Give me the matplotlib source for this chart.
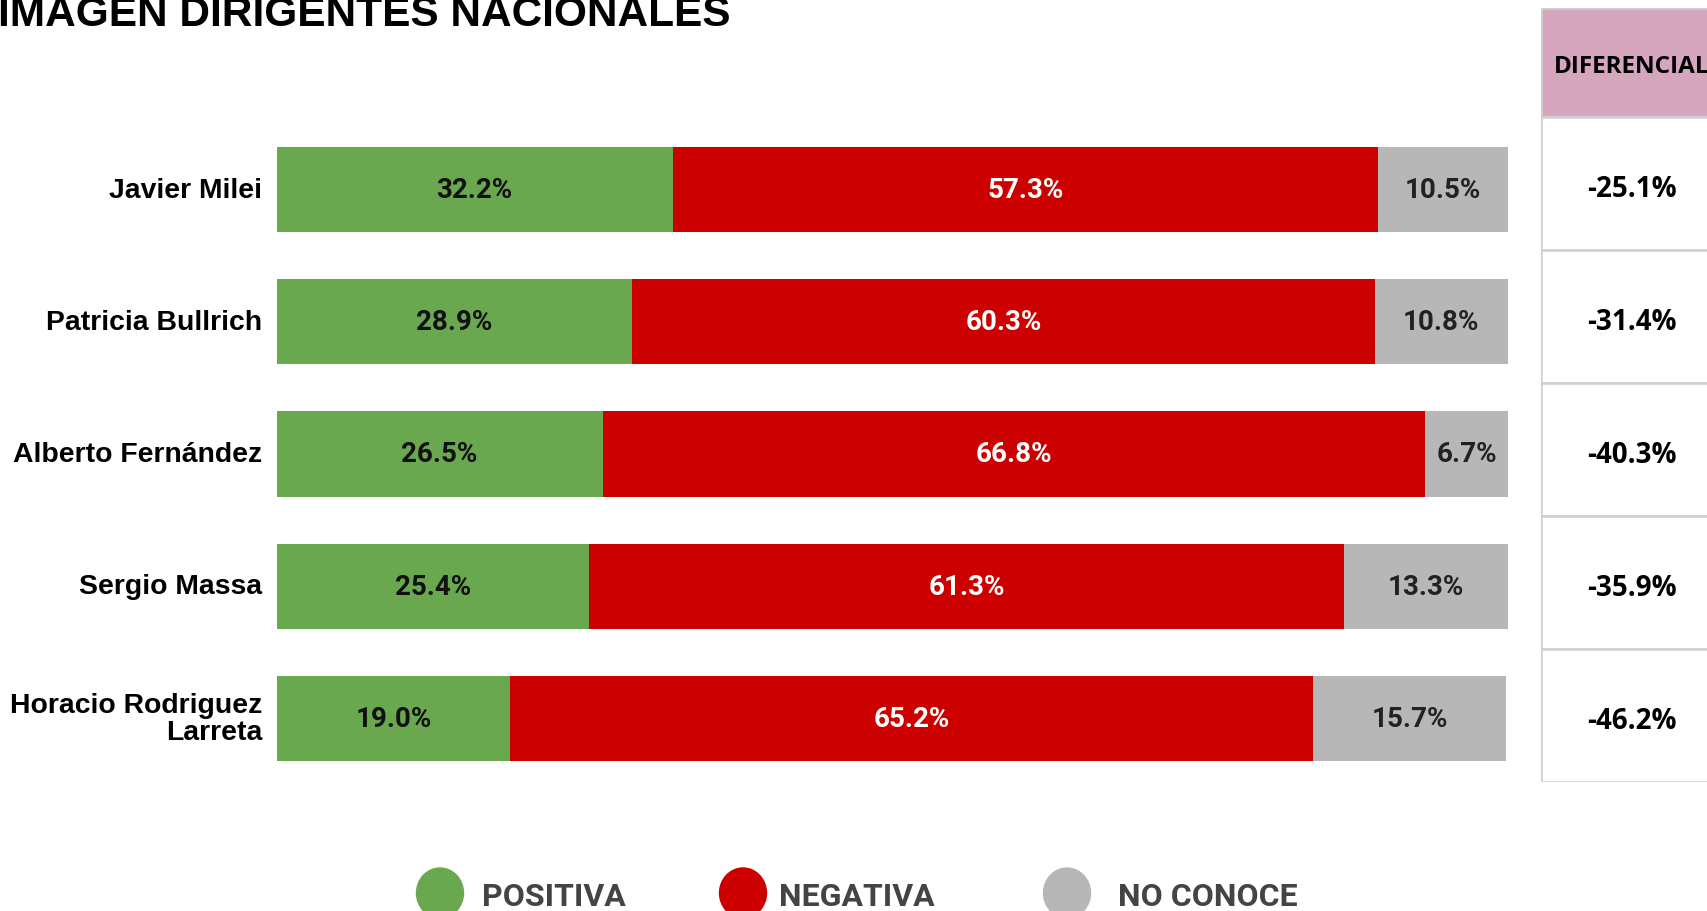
import matplotlib
matplotlib.use("Agg")
import matplotlib.pyplot as plt
from matplotlib.patches import Rectangle, Ellipse

# data
candidatos = ["Javier Milei", "Patricia Bullrich", "Alberto Fernández",
              "Sergio Massa", "Horacio Rodriguez\nLarreta"]
positiva = [32.2, 28.9, 26.5, 25.4, 19.0]
negativa = [57.3, 60.3, 66.8, 61.3, 65.2]
no_conoce = [10.5, 10.8, 6.7, 13.3, 15.7]
diferencial = [-25.1, -31.4, -40.3, -35.9, -46.2]
series = ["POSITIVA", "NEGATIVA", "NO CONOCE"]

verde = "#6aa84f"
rojo = "#cc0000"
gris = "#b7b7b7"

W, H = 1707, 912
fig = plt.figure(figsize=(W / 100, H / 100), dpi=100)

# bars axes (pixel layout from the reference)
x0, x1 = 276.5, 1507.7
ytop, ybot = 124.5, 785.5
ax = fig.add_axes([x0 / W, (H - ybot) / H, (x1 - x0) / W, (ybot - ytop) / H])
ax.set_xlim(0, 100)
ax.set_ylim(4.5, -0.5)
ax.axis("off")

ys = list(range(len(candidatos)))
h = 0.645
ax.barh(ys, positiva, height=h, color=verde)
left2 = positiva
ax.barh(ys, negativa, left=left2, height=h, color=rojo)
left3 = [p + n for p, n in zip(positiva, negativa)]
ax.barh(ys, no_conoce, left=left3, height=h, color=gris)

lab_font = dict(family=["Roboto", "DejaVu Sans"], fontweight="bold", fontsize=20,
                ha="center", va="center")
for i in ys:
    ax.text(positiva[i] / 2, i, f"{positiva[i]:.1f}%", color="#111111", **lab_font)
    ax.text(positiva[i] + negativa[i] / 2, i, f"{negativa[i]:.1f}%", color="white", **lab_font)
    ax.text(left3[i] + no_conoce[i] / 2, i, f"{no_conoce[i]:.1f}%", color="#222222", **lab_font)
    ax.text(-1.15, i, candidatos[i], ha="right", va="center", fontsize=20.4,
            fontweight="bold", family=["Liberation Sans", "DejaVu Sans"],
            linespacing=1.05, color="black")

# table on the right
tx0, tx1 = 1541, 1722
ttop, tbot = 9, 783
row = 133.0
hdr = (tbot - ttop - 5 * row) / row
tax = fig.add_axes([tx0 / W, (H - tbot) / H, (tx1 - tx0) / W, (tbot - ttop) / H])
tax.set_xlim(0, 1)
tax.set_ylim(4.5, -0.5 - hdr)
tax.axis("off")
borde = "#d0d0d0"
tax.add_patch(Rectangle((0, -0.5 - hdr), 1, hdr, facecolor="#d5a6bd",
                        edgecolor=borde, linewidth=1.8))
tax.text(0.5, -0.5 - hdr / 2 + 0.03, "DIFERENCIAL", ha="center", va="center",
         fontsize=17.5, fontweight="bold", family=["Open Sans", "DejaVu Sans"])
for i in ys:
    tax.add_patch(Rectangle((0, i - 0.5), 1, 1, facecolor="white",
                            edgecolor=borde, linewidth=1.8))
    tax.text(0.5, i + 0.04, f"{diferencial[i]:.1f}%", ha="center", va="center",
             fontsize=20, fontweight="bold", family=["Open Sans", "DejaVu Sans"])

# title
fig.text(-2 / W, (H - 26) / H, "IMAGEN DIRIGENTES NACIONALES", ha="left",
         va="baseline", fontsize=30.5, fontweight="bold",
         family=["Liberation Sans", "DejaVu Sans"])

# legend
cx = [440, 743, 1067]
tx = [482, 779, 1118]
for c, t, col, name in zip(cx, tx, [verde, rojo, gris], series):
    fig.add_artist(Ellipse((c / W, (H - 894) / H), 47 / W, 50 / H,
                           transform=fig.transFigure, color=col))
    fig.text(t / W, (H - 897) / H, name, ha="left", va="center", fontsize=23,
             fontweight="bold", color="#444444",
             family=["Roboto", "DejaVu Sans"])

fig.savefig("out.png", dpi=100)
